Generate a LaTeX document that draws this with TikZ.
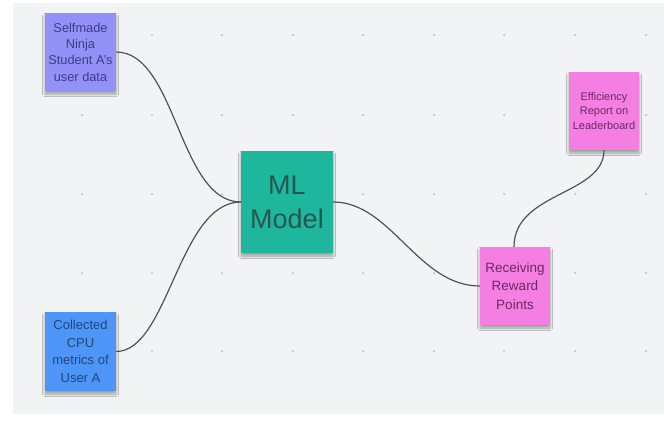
\documentclass[tikz,border=0pt]{standalone}
\usepackage{fontspec}
\setmainfont{Liberation Sans}
\usetikzlibrary{shadows.blur}
\definecolor{bggray}{HTML}{F2F3F5}
\definecolor{dotgray}{HTML}{B4B6BA}
\definecolor{stpurple}{HTML}{9390F8}
\definecolor{stblue}{HTML}{4D95F7}
\definecolor{stteal}{HTML}{1EB79D}
\definecolor{stpink}{HTML}{F47EE2}
\definecolor{txpurple}{HTML}{3E3C85}
\definecolor{txblue}{HTML}{22467A}
\definecolor{txteal}{HTML}{24574F}
\definecolor{txpink}{HTML}{6E2766}
\definecolor{linkgray}{HTML}{505254}
\tikzset{
  sticky/.style={rectangle, inner sep=0pt, align=center,
    blur shadow={shadow xshift=0pt, shadow yshift=-3pt, shadow blur radius=2.5pt, shadow opacity=35}},
  link/.style={draw=linkgray, line width=1.2pt},
  griddot/.style={fill=dotgray, draw=none}
}
\begin{document}
\begin{tikzpicture}[x=1pt,y=-1pt]
\useasboundingbox (0,0) rectangle (664,421);
\fill[white] (0,0) rectangle (664,421);
\fill[bggray] (13,3) rectangle (664,414);
% grid dots
\foreach \gx in {82,152,222,293,363,434,504,575,646}{
  \foreach \gy in {35,115,194,273,351}{
    \fill[griddot] (\gx,\gy) circle (1pt);
  }
}
% nodes
\node[sticky, fill=stpurple, text=txpurple, minimum width=71pt, minimum height=78pt,
  font=\fontsize{12.8}{16.3}\selectfont] (A) at (80.5,52)
  {Selfmade\\Ninja\\Student A's\\user data};
\node[sticky, fill=stblue, text=txblue, minimum width=71pt, minimum height=79pt,
  font=\fontsize{13}{17.5}\selectfont] (B) at (80.5,351.5)
  {Collected\\CPU\\metrics of\\User A};
\node[sticky, fill=stteal, text=txteal, minimum width=92pt, minimum height=102pt,
  font=\fontsize{27}{34}\selectfont] (ML) at (287,202)
  {ML\\Model};
\node[sticky, fill=stpink, text=txpink, minimum width=70pt, minimum height=78pt,
  font=\fontsize{13.5}{18.3}\selectfont] (R) at (515,286)
  {Receiving\\Reward\\Points};
\node[sticky, fill=stpink, text=txpink, minimum width=70pt, minimum height=78pt,
  font=\fontsize{11}{14.7}\selectfont] (E) at (604,111)
  {Efficiency\\Report on\\Leaderboard};
% connectors
\draw[link] (A.east) .. controls +(60,0) and +(-62,0) .. (ML.west);
\draw[link] (B.east) .. controls +(52,0) and +(-62,0) .. (ML.west);
\draw[link] (ML.east) .. controls +(58,0) and +(-62,0) .. (R.west);
\draw[link] ([xshift=-1pt]R.north) .. controls +(0,-55) and +(0,45) .. (E.south);
\end{tikzpicture}
\end{document}
